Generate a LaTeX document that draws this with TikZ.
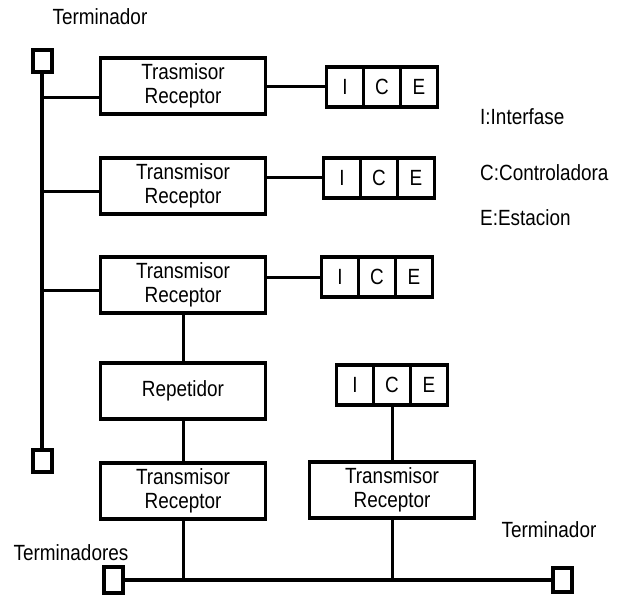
\documentclass[tikz,border=0pt]{standalone}
\usepackage{fontspec}
\setmainfont[FakeStretch=0.86]{Liberation Sans}
\usetikzlibrary{positioning}
\tikzset{
    trBox/.style={rectangle, draw=black, line width=3.2pt, minimum width=165pt, minimum height=56pt, align=center, inner sep=0pt, font=\fontsize{22}{24}\selectfont},
    iceCell/.style={rectangle, draw=black, line width=3.2pt, minimum width=37pt, minimum height=40pt, inner sep=0pt, outer sep=0pt, font=\fontsize{22}{24}\selectfont},
    termBox/.style={rectangle, draw=black, line width=4pt, fill=white, minimum width=19pt, minimum height=22pt, inner sep=0pt},
    busLine/.style={line width=4pt},
    link/.style={line width=3pt},
    lbl/.style={font=\fontsize{22}{24}\selectfont, inner sep=0pt}
}

\begin{document}
\begin{tikzpicture}[x=1pt, y=-1pt]
    \useasboundingbox (0,0) rectangle (618,596);
    % --- vertical bus ---
    \node[termBox] (tTop) at (42,61) {};
    \node[termBox] (tBot) at (42,461) {};
    \draw[busLine] (tTop) -- (tBot);
    \node[lbl] (lTop) at (100,17) {Terminador};
    % --- stations ---
    \node[trBox] (tr1) at (183,86) {Trasmisor\\Receptor};
    \node[trBox] (tr2) at (183,186) {Transmisor\\Receptor};
    \node[trBox] (tr3) at (183,285) {Transmisor\\Receptor};
    \node[trBox] (rep) at (183,391) {Repetidor};
    \node[trBox] (tr4) at (183,491) {Transmisor\\Receptor};
    \node[trBox] (tr5) at (392,490) {Transmisor\\Receptor};
    % --- I C E blocks ---
    \node[iceCell] (i1) at (345,87) {I};
    \node[iceCell, right=0pt of i1] (c1) {C};
    \node[iceCell, right=0pt of c1] (e1) {E};
    \node[iceCell] (i2) at (342,178) {I};
    \node[iceCell, right=0pt of i2] (c2) {C};
    \node[iceCell, right=0pt of c2] (e2) {E};
    \node[iceCell] (i3) at (340,277) {I};
    \node[iceCell, right=0pt of i3] (c3) {C};
    \node[iceCell, right=0pt of c3] (e3) {E};
    \node[iceCell] (i4) at (355,385) {I};
    \node[iceCell, right=0pt of i4] (c4) {C};
    \node[iceCell, right=0pt of c4] (e4) {E};
    % --- links ---
    \coordinate (j1) at (42,98); \coordinate (j2) at (42,192); \coordinate (j3) at (42,290);
    \draw[link] (j1) -- (j1 -| tr1.west);
    \draw[link] (j2) -- (j2 -| tr2.west);
    \draw[link] (j3) -- (j3 -| tr3.west);
    \draw[link] (i1.west) -- (i1.west -| tr1.east);
    \draw[link] (i2.west) -- (i2.west -| tr2.east);
    \draw[link] (i3.west) -- (i3.west -| tr3.east);
    \draw[link] (tr3.south) -- (rep.north);
    \draw[link] (rep.south) -- (tr4.north);
    \draw[link] (c4.south) -- (c4.south |- tr5.north);
    % --- bottom bus ---
    \node[termBox, minimum height=26pt] (tL) at (113,580) {};
    \node[termBox, minimum height=24pt] (tR) at (562,580) {};
    \draw[busLine] (tL) -- (tR);
    \draw[link] (tr4.south) -- (tr4.south |- tL);
    \draw[link] (tr5.south) -- (tr5.south |- tL);
    \node[lbl] (lBus) at (71,553) {Terminadores};
    \node[lbl] (lRight) at (549,530) {Terminador};
    % --- legend ---
    \node[lbl, anchor=west] (lgI) at (480,117) {I:Interfase};
    \node[lbl, anchor=west] (lgC) at (480,173) {C:Controladora};
    \node[lbl, anchor=west] (lgE) at (480,218) {E:Estacion};
\end{tikzpicture}
\end{document}
